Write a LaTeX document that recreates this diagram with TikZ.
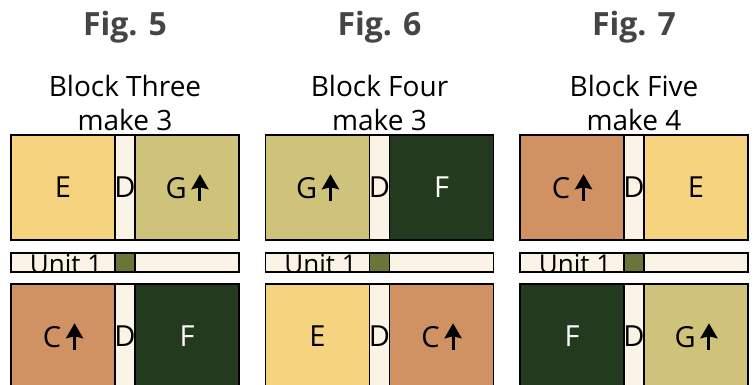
\documentclass[tikz,border=0pt]{standalone}
\usepackage{fontspec}
\setmainfont{Open Sans}
\usetikzlibrary{arrows.meta}
\definecolor{patchE}{HTML}{F6D37F}
\definecolor{patchG}{HTML}{CFC27A}
\definecolor{patchC}{HTML}{D09263}
\definecolor{patchF}{HTML}{233A1F}
\definecolor{cream}{HTML}{FAF3E6}
\definecolor{unitgreen}{HTML}{6B7537}
\definecolor{figgray}{HTML}{454545}
\newcommand{\upar}{\,\tikz[baseline=2pt]\draw[black,line width=3pt,-{Stealth[width=17pt,length=15pt,inset=2pt]}] (0pt,0pt) -- (0pt,26.5pt);}

\begin{document}
\begin{tikzpicture}[x=1pt,y=-1pt,
  every node/.style={font=\fontsize{28}{34}\selectfont},
  fig/.style={anchor=base,text=figgray,font=\fontsize{32}{38}\selectfont\bfseries},
  head/.style={anchor=base},
  patch/.style={draw,line width=1.5pt,minimum width=104pt,minimum height=105pt,inner sep=0pt,font=\fontsize{29}{34}\selectfont},
  strip/.style={draw,line width=1.5pt,fill=cream,minimum width=20pt,minimum height=105pt,inner sep=0pt},
  dlabel/.style={inner sep=0pt,font=\fontsize{29}{34}\selectfont},
  unitbar/.style={draw,line width=1.5pt,fill=cream,minimum width=104pt,minimum height=19pt,inner sep=0pt},
  unitsq/.style={unitbar,fill=unitgreen,minimum width=20pt},
  unittext/.style={anchor=base,font=\fontsize{26}{30}\selectfont}]
\useasboundingbox (0,0) rectangle (754,385);
\clip (0,0) rectangle (754,385);
% Fig. 5
\node[fig] (fig5) at (125,36) {Fig. 5};
\node[head] (blk5) at (125,96) {Block Three};
\node[head] (mk5) at (125,131) {make 3};
\node[patch,fill=patchE] (e5) at (63,187.5) {E};
\node[strip] (d5) at (125,187.5) {};
\node[patch,fill=patchG] (g5) at (187,187.5) {G\upar};
\node[dlabel] (d5l) at (d5) {D};
\node[unitbar] (ua5) at (63,262.5) {};
\node[unitsq] (us5) at (125,262.5) {};
\node[unitbar] (ub5) at (187,262.5) {};
\begin{scope}
  \clip (ua5.south west) rectangle (ua5.north east);
  \node[unittext] (u5) at (66,273) {Unit 1};
\end{scope}
\node[patch,fill=patchC] (c5) at (63,336.5) {C\upar};
\node[strip] (dd5) at (125,336.5) {};
\node[patch,fill=patchF,text=white] (f5) at (187,336.5) {F};
\node[dlabel] (dd5l) at (dd5) {D};
% Fig. 6
\node[fig] (fig6) at (379.5,36) {Fig. 6};
\node[head] (blk6) at (379.5,96) {Block Four};
\node[head] (mk6) at (379.5,131) {make 3};
\node[patch,fill=patchG] (g6) at (317.5,187.5) {G\upar};
\node[strip] (d6) at (379.5,187.5) {};
\node[patch,fill=patchF,text=white] (f6) at (441.5,187.5) {F};
\node[dlabel] (d6l) at (d6) {D};
\node[unitbar] (ua6) at (317.5,262.5) {};
\node[unitsq] (us6) at (379.5,262.5) {};
\node[unitbar] (ub6) at (441.5,262.5) {};
\begin{scope}
  \clip (ua6.south west) rectangle (ua6.north east);
  \node[unittext] (u6) at (320.5,273) {Unit 1};
\end{scope}
\node[patch,fill=patchE] (e6) at (317.5,336.5) {E};
\node[strip] (dd6) at (379.5,336.5) {};
\node[patch,fill=patchC] (c6) at (441.5,336.5) {C\upar};
\node[dlabel] (dd6l) at (dd6) {D};
% Fig. 7
\node[fig] (fig7) at (634,36) {Fig. 7};
\node[head] (blk7) at (634,96) {Block Five};
\node[head] (mk7) at (634,131) {make 4};
\node[patch,fill=patchC] (c7) at (572,187.5) {C\upar};
\node[strip] (d7) at (634,187.5) {};
\node[patch,fill=patchE] (e7) at (696,187.5) {E};
\node[dlabel] (d7l) at (d7) {D};
\node[unitbar] (ua7) at (572,262.5) {};
\node[unitsq] (us7) at (634,262.5) {};
\node[unitbar] (ub7) at (696,262.5) {};
\begin{scope}
  \clip (ua7.south west) rectangle (ua7.north east);
  \node[unittext] (u7) at (575,273) {Unit 1};
\end{scope}
\node[patch,fill=patchF,text=white] (f7) at (572,336.5) {F};
\node[strip] (dd7) at (634,336.5) {};
\node[patch,fill=patchG] (g7) at (696,336.5) {G\upar};
\node[dlabel] (dd7l) at (dd7) {D};
\end{tikzpicture}
\end{document}
